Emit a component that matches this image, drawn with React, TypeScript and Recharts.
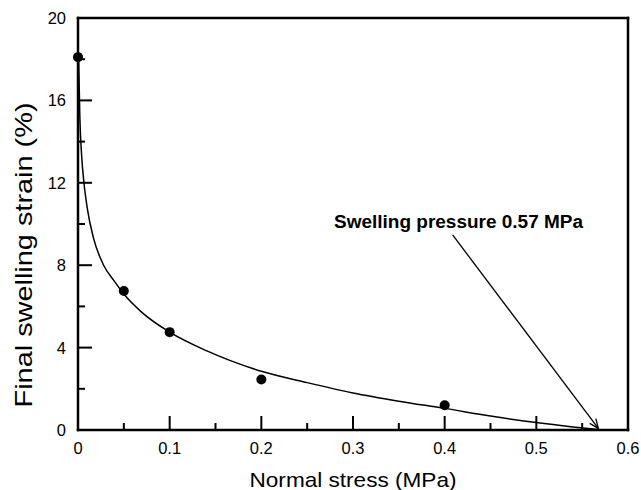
import React from "react"
import * as Recharts from "recharts"
import {
  ComposedChart,
  Line,
  Scatter,
  XAxis,
  YAxis,
  ReferenceLine,
  ReferenceDot,
} from "recharts"

// measured points (normal stress MPa, final swelling strain %)
const stress = [0, 0.05, 0.1, 0.2, 0.4]
const strain = [18.1, 6.75, 4.75, 2.45, 1.2]

// fitted curve
const fitStress = [0.0007, 0.002, 0.004, 0.0065, 0.01, 0.017, 0.028, 0.04, 0.05, 0.07, 0.1, 0.14, 0.2, 0.25, 0.3, 0.35, 0.4, 0.45, 0.5, 0.54, 0.568]
const fitStrain = [18.0, 15.2, 13.3, 12.0, 10.8, 9.3, 8.0, 7.2, 6.6, 5.7, 4.75, 3.85, 2.85, 2.3, 1.8, 1.4, 1.05, 0.68, 0.36, 0.15, 0.02]

const xTicks = [0, 0.05, 0.1, 0.15, 0.2, 0.25, 0.3, 0.35, 0.4, 0.45, 0.5, 0.55, 0.6]
const xLabels = ["0", "", "0.1", "", "0.2", "", "0.3", "", "0.4", "", "0.5", "", "0.6"]
const yTicks = [0, 2, 4, 6, 8, 10, 12, 14, 16, 18, 20]
const yLabels = ["0", "", "4", "", "8", "", "12", "", "16", "", "20"]

const noteText = "Swelling pressure 0.57 MPa"
const noteAt = { x: 0.2793, y: 9.81 }
const arrowFrom = { x: 0.4087, y: 9.47 }
const arrowTo = { x: 0.5676, y: 0.08 }

const points = stress.map((x, i) => ({ x, y: strain[i] }))
const curve = fitStress.map((x, i) => ({ x, y: fitStrain[i] }))

const font = "'Liberation Sans', Arial, sans-serif"

const XTick = (props: any) => {
  const { x, y, index } = props
  const label = xLabels[index]
  return (
    <g>
      <line x1={x} x2={x} y1={y} y2={y - (label ? 14 : 7)} stroke="#000" strokeWidth={2} />
      {label && (
        <text x={x} y={y + 24} textAnchor="middle" fontSize={16.5} fontFamily={font} fill="#000">
          {label}
        </text>
      )}
    </g>
  )
}

const YTick = (props: any) => {
  const { x, y, index } = props
  const label = yLabels[index]
  return (
    <g>
      <line x1={x} x2={x + (label ? 14 : 7)} y1={y} y2={y} stroke="#000" strokeWidth={2} />
      {label && (
        <text x={x - 12} y={y + 6} textAnchor="end" fontSize={16.5} fontFamily={font} fill="#000">
          {label}
        </text>
      )}
    </g>
  )
}

// box around the plot area, drawn side by side
const Frame = () => {
  const usePlotArea = (Recharts as any).usePlotArea
  const area = usePlotArea ? usePlotArea() : null
  if (!area) return null
  const l = area.x
  const t = area.y
  const r = area.x + area.width
  const b = area.y + area.height
  return (
    <g stroke="#000" strokeWidth={2.5} strokeLinecap="square" fill="none">
      <line x1={l} y1={t} x2={r} y2={t} />
      <line x1={r} y1={t} x2={r} y2={b} />
      <line x1={l} y1={b} x2={r} y2={b} />
      <line x1={l} y1={t} x2={l} y2={b} />
    </g>
  )
}

const Arrow = (p: any) => {
  const { x1, y1, x2, y2 } = p
  const a = Math.atan2(y2 - y1, x2 - x1)
  const len = 10
  const spread = 0.4
  const ax = x2 - len * Math.cos(a - spread)
  const ay = y2 - len * Math.sin(a - spread)
  const bx = x2 - len * Math.cos(a + spread)
  const by = y2 - len * Math.sin(a + spread)
  return (
    <g stroke="#000" strokeWidth={1.3} fill="none">
      <line x1={x1} y1={y1} x2={x2} y2={y2} />
      <polyline points={`${ax},${ay} ${x2},${y2} ${bx},${by}`} />
    </g>
  )
}

const Note = (p: any) => (
  <text
    x={p.cx}
    y={p.cy}
    fontSize={18}
    fontWeight="bold"
    fontFamily={font}
    fill="#000"
    textLength={249}
    lengthAdjust="spacingAndGlyphs"
  >
    {noteText}
  </text>
)

const Dot = (p: any) => <circle cx={p.cx} cy={p.cy} r={5} fill="#000" />

export default function App() {
  return (
    <div style={{ position: "absolute", left: 0, top: 0, background: "#fff" }}>
      <ComposedChart width={641} height={490} margin={{ top: 18, right: 13, bottom: 0, left: 0 }}>
        <XAxis
          dataKey="x"
          type="number"
          domain={[0, 0.6]}
          ticks={xTicks}
          interval={0}
          height={60}
          tickSize={0}
          tickMargin={0}
          axisLine={false}
          tickLine={false}
          tick={<XTick />}
          label={{
            content: (props: any) => {
              const vb = props.viewBox
              return (
                <text
                  x={vb.x + vb.width / 2}
                  y={vb.y + 57}
                  textAnchor="middle"
                  fontSize={21}
                  fontFamily={font}
                  fill="#000"
                  textLength={207}
                  lengthAdjust="spacingAndGlyphs"
                >
                  Normal stress (MPa)
                </text>
              )
            },
          }}
        />
        <YAxis
          type="number"
          domain={[0, 20]}
          ticks={yTicks}
          interval={0}
          width={78}
          tickSize={0}
          tickMargin={0}
          axisLine={false}
          tickLine={false}
          tick={<YTick />}
          label={{
            content: (props: any) => {
              const vb = props.viewBox
              const cx = vb.x + 32
              const cy = vb.y + vb.height / 2 + 31
              return (
                <text
                  x={cx}
                  y={cy}
                  transform={`rotate(-90 ${cx} ${cy})`}
                  textAnchor="middle"
                  fontSize={24}
                  fontFamily={font}
                  fill="#000"
                  textLength={305}
                  lengthAdjust="spacingAndGlyphs"
                >
                  Final swelling strain (%)
                </text>
              )
            },
          }}
        />
        <Frame />
        <Line
          data={curve}
          dataKey="y"
          type="monotone"
          stroke="#000"
          strokeWidth={1.5}
          dot={false}
          activeDot={false}
          isAnimationActive={false}
        />
        <Scatter data={points} dataKey="y" fill="#000" shape={<Dot />} isAnimationActive={false} />
        <ReferenceLine segment={[arrowFrom, arrowTo]} shape={<Arrow />} />
        <ReferenceDot x={noteAt.x} y={noteAt.y} r={0} shape={<Note />} />
      </ComposedChart>
    </div>
  )
}
